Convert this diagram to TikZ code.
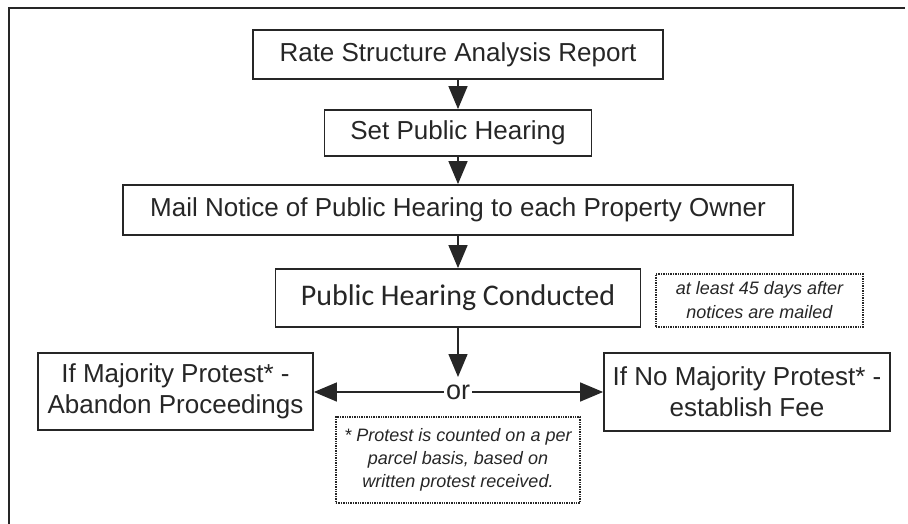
\documentclass[tikz,border=0pt]{standalone}
\usepackage{fontspec}
\setmainfont{Liberation Sans}
\newfontfamily\calib{Carlito}
\usetikzlibrary{arrows.meta}
\definecolor{ink}{RGB}{38,38,38}
\tikzset{
  box/.style={draw=ink, line width=1.8pt, text=ink, align=center, inner sep=0pt,
    font=\fontsize{26}{31}\selectfont},
  notebox/.style={draw=ink, line width=1.4pt, densely dotted, text=ink, align=center, inner sep=0pt,
    font=\fontsize{18}{24}\itshape\selectfont},
  arr/.style={draw=ink, line width=1.5pt, -{Triangle[width=19pt,length=23pt]}},
}
\begin{document}
\begin{tikzpicture}[x=1pt,y=-1pt]
\useasboundingbox (0,0) rectangle (908,524);
\draw[ink, line width=2.2pt] (9,524) -- (9,8) -- (905,8);

\node[box, minimum width=410pt, minimum height=49pt] (b1) at (458,54.5) {Rate Structure Analysis Report};
\node[box, minimum width=267pt, minimum height=46pt] (b2) at (458,133) {Set Public Hearing};
\node[box, minimum width=670pt, minimum height=50pt] (b3) at (458,210) {Mail Notice of Public Hearing to each Property Owner};
\node[box, minimum width=365pt, minimum height=58pt, font=\calib\fontsize{30}{35}\selectfont] (b4) at (458,298) {Public Hearing Conducted};
\node[notebox, minimum width=207pt, minimum height=53pt] (n1) at (759.5,300.5) {at least 45 days after\\notices are mailed};
\node[box, minimum width=275pt, minimum height=77pt] (lb) at (175.5,391.5) {If Majority Protest* -\\Abandon Proceedings};
\node[box, minimum width=286pt, minimum height=78pt] (rb) at (747,392) {If No Majority Protest* -\\establish Fee};
\node[text=ink, inner sep=2pt, font=\fontsize{27}{31}\selectfont] (or) at (458,392) {or};
\node[notebox, minimum width=244pt, minimum height=86pt, font=\fontsize{18}{23}\itshape\selectfont] (fn) at (458,460) {* Protest is counted on a per\\parcel basis, based on\\written protest received.};
\coordinate (tip) at (458,377);

\draw[arr] (b1) -- (b2);
\draw[arr] (b2) -- (b3);
\draw[arr] (b3) -- (b4);
\draw[arr] (b4) -- (tip);
\draw[arr] (or.west) -- (lb.east |- or.west);
\draw[arr] (or.east) -- (rb.west |- or.east);
\end{tikzpicture}
\end{document}
